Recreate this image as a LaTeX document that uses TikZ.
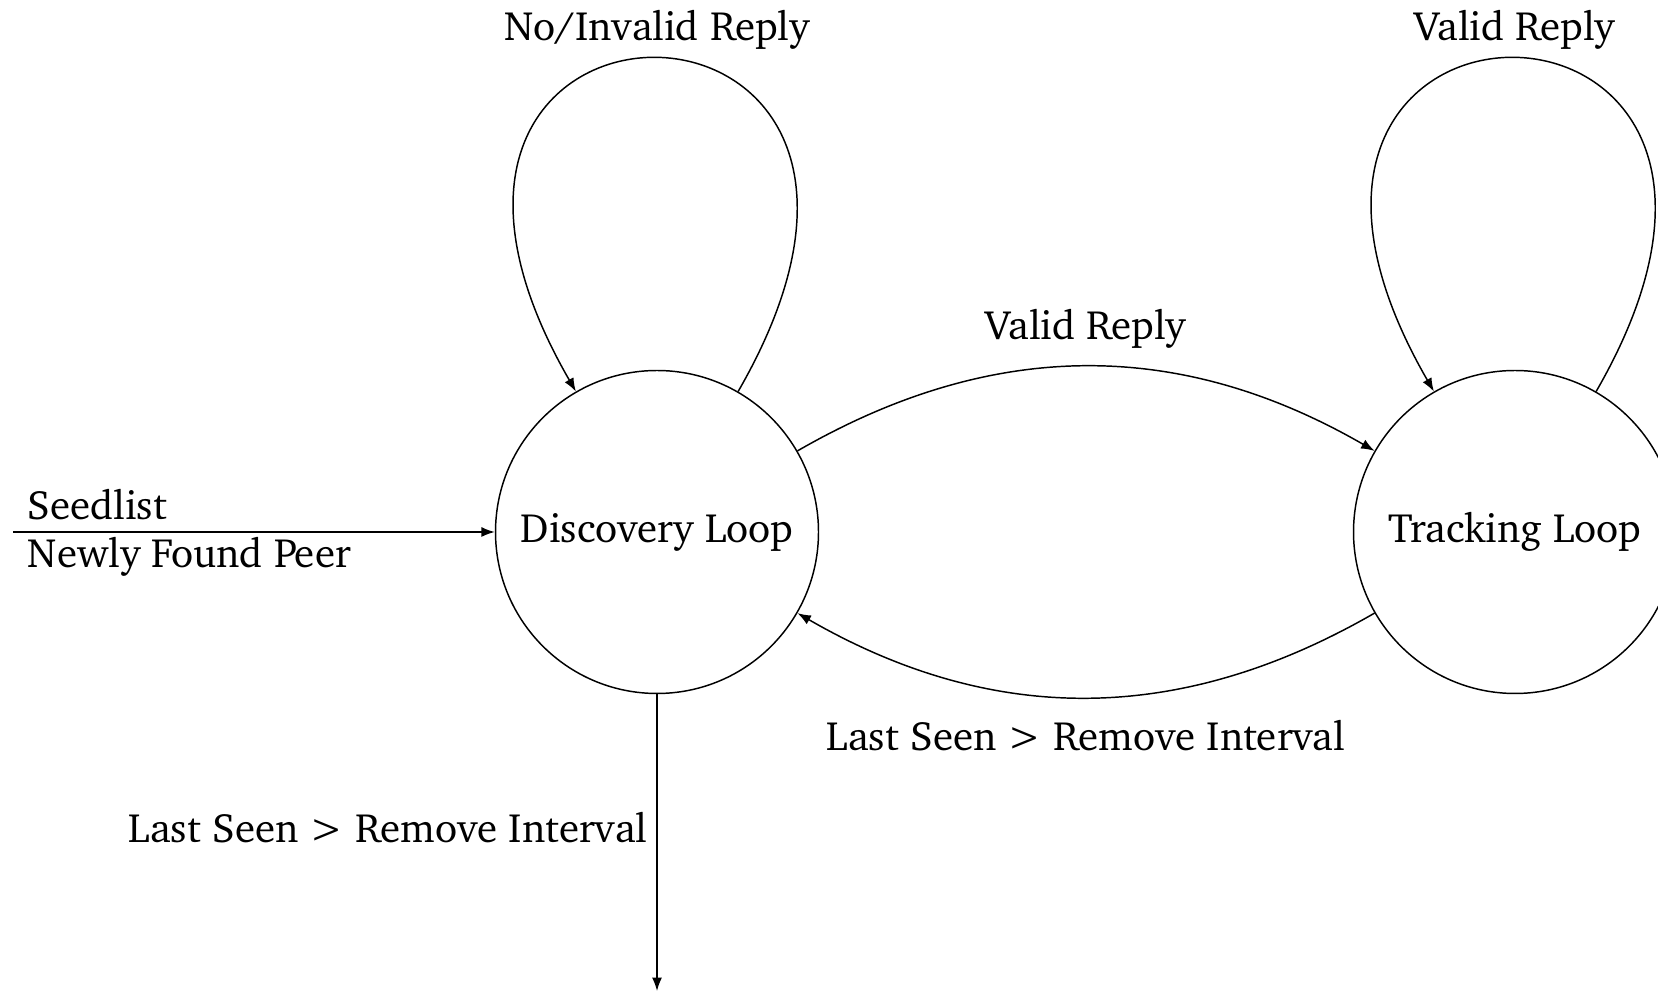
\documentclass[tikz,border=0pt]{standalone}
\usepackage[T1]{fontenc}
\usepackage{charter}
\usetikzlibrary{arrows.meta}
\begin{document}
\begin{tikzpicture}[
  x=0.238095pt, y=-0.238095pt,
  every node/.style={font=\fontsize{9.75}{12}\selectfont},
  state/.style={circle, draw, line width=0.35pt, minimum size=76.9pt, inner sep=0pt},
  edge/.style={line width=0.35pt, -{Latex[length=3.2pt,width=2.4pt]}},
  lbl/.style={inner sep=0pt}
]
\useasboundingbox (0,0) rectangle (1658,991);

% states
\node[state] (D) at (657,532) {Discovery Loop};
\node[state] (T) at (1515,532) {Tracking Loop};

% free ends of the entry and exit connectors
\coordinate (entry) at (13,532);
\coordinate (exit) at (657,991);

% entry into the discovery loop
\draw[edge] (entry) -- (D);
\node[lbl, anchor=base west] (seed) at (27,520) {Seedlist};
\node[lbl, anchor=base west] (newpeer) at (27,568) {Newly Found Peer};

% self loops
\draw[edge] (D) to[out=60, in=120, looseness=8.1] (D);
\node[lbl, anchor=base] (dloop) at (657,41) {No/Invalid Reply};
\draw[edge] (T) to[out=60, in=120, looseness=8.1] (T);
\node[lbl, anchor=base] (tloop) at (1515,41) {Valid Reply};

% transitions between the loops
\draw[edge] (D) to[bend left=30] node[above, yshift=0.8pt] {Valid Reply} (T);
\draw[edge] (T) to[bend left=30] node[below, yshift=-2pt] {Last Seen > Remove Interval} (D);

% removal
\draw[edge] (D) -- node[left, pos=0.45, xshift=1.2pt] {Last Seen > Remove Interval} (exit);
\end{tikzpicture}
\end{document}
